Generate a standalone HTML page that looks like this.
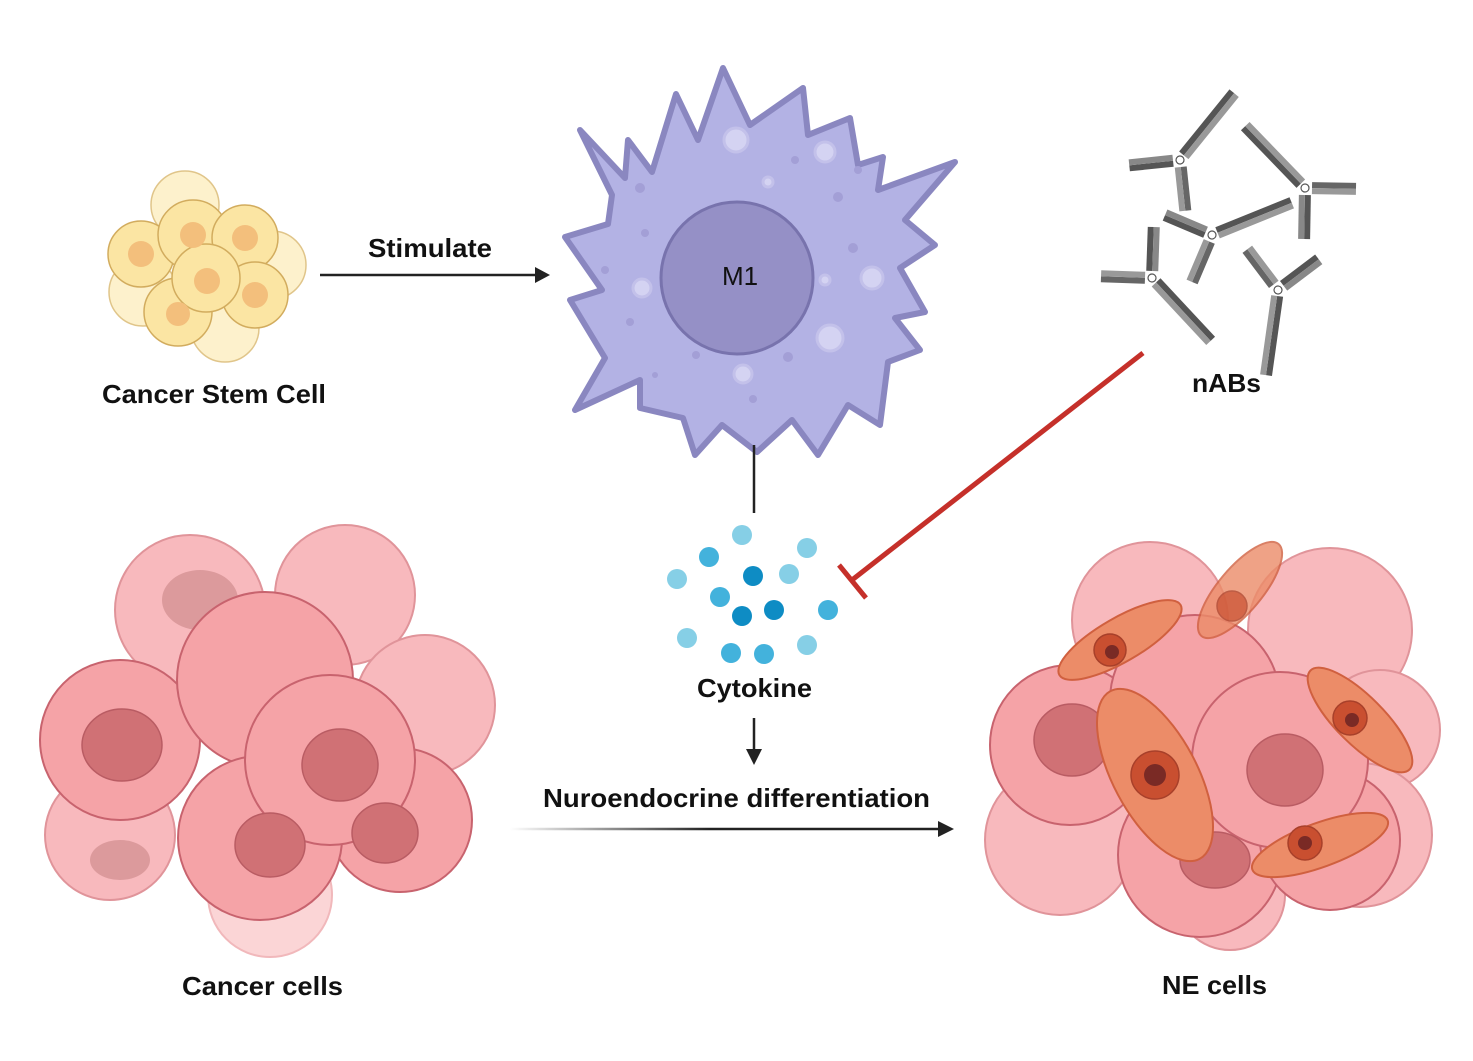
<!DOCTYPE html>
<html><head><meta charset="utf-8"><style>
html,body{margin:0;padding:0;background:#fff;}
svg{display:block;}
text{font-family:"Liberation Sans",sans-serif;font-weight:bold;fill:#111;}
</style></head><body>
<svg width="1473" height="1061" viewBox="0 0 1473 1061" xmlns="http://www.w3.org/2000/svg">
<defs>
<linearGradient id="g1" x1="510" y1="0" x2="953" y2="0" gradientUnits="userSpaceOnUse">
<stop offset="0" stop-color="#fff"/><stop offset="0.45" stop-color="#222"/><stop offset="1" stop-color="#222"/>
</linearGradient>
<g id="ab">
<rect x="6" y="-6" width="80" height="6" fill="#555"/><rect x="6" y="0" width="80" height="6" fill="#999"/>
<g transform="rotate(135)"><rect x="7" y="-6" width="44" height="6" fill="#666"/><rect x="7" y="0" width="44" height="6" fill="#999"/></g>
<g transform="rotate(-135)"><rect x="7" y="-6" width="44" height="6" fill="#555"/><rect x="7" y="0" width="44" height="6" fill="#888"/></g>
<circle r="4" fill="#fff" stroke="#555" stroke-width="1.2"/>
</g>
</defs>

<!-- Cancer stem cell cluster -->
<g stroke="#e0c58a" stroke-width="1.5" fill="#fdf1cc">
<circle cx="185" cy="205" r="34"/><circle cx="272" cy="265" r="34"/><circle cx="225" cy="328" r="34"/><circle cx="143" cy="292" r="34"/>
</g>
<g stroke="#d2ac5e" stroke-width="1.5" fill="#fbe5a3">
<circle cx="141" cy="254" r="33"/><circle cx="193" cy="235" r="35"/><circle cx="245" cy="238" r="33"/>
<circle cx="255" cy="295" r="33"/><circle cx="178" cy="312" r="34"/><circle cx="206" cy="278" r="34"/>
</g>
<g fill="#f3bf7c">
<circle cx="141" cy="254" r="13"/><circle cx="193" cy="235" r="13"/><circle cx="245" cy="238" r="13"/>
<circle cx="255" cy="295" r="13"/><circle cx="178" cy="314" r="12"/><circle cx="207" cy="281" r="13"/>
</g>
<text x="102" y="403" font-size="26" textLength="224" lengthAdjust="spacingAndGlyphs">Cancer Stem Cell</text>

<!-- Stimulate arrow -->
<line x1="320" y1="275" x2="536" y2="275" stroke="#222" stroke-width="2.5"/>
<polygon points="550,275 535,267 535,283" fill="#222"/>
<text x="368" y="257" font-size="26" textLength="124" lengthAdjust="spacingAndGlyphs">Stimulate</text>

<!-- M1 macrophage -->
<path d="M580,130 L625,178 L628,140 L652,172 L676,94 L698,140 L723,68 L750,125 L803,88 L808,135 L850,118 L858,165 L883,157 L878,190 L955,162 L905,220 L935,245 L900,268 L925,312 L895,318 L920,350 L888,362 L880,425 L848,405 L818,455 L792,420 L757,452 L722,425 L695,455 L683,418 L640,408 L640,380 L575,410 L605,358 L570,300 L602,290 L565,237 L608,224 L612,195 Z" fill="#b3b2e4" stroke="#8a87c0" stroke-width="6" stroke-linejoin="round"/>
<g fill="#a39fd6">
<circle cx="640" cy="188" r="5"/><circle cx="645" cy="233" r="4"/><circle cx="605" cy="270" r="4"/><circle cx="630" cy="322" r="4"/>
<circle cx="696" cy="355" r="4"/><circle cx="788" cy="357" r="5"/><circle cx="838" cy="197" r="5"/><circle cx="853" cy="248" r="5"/>
<circle cx="795" cy="160" r="4"/><circle cx="858" cy="170" r="4"/><circle cx="753" cy="399" r="4"/><circle cx="655" cy="375" r="3"/>
</g>
<g fill="#d4d3f2" stroke="#c3c1ea" stroke-width="3">
<circle cx="736" cy="140" r="12"/><circle cx="825" cy="152" r="10"/><circle cx="768" cy="182" r="5"/><circle cx="642" cy="288" r="9"/>
<circle cx="872" cy="278" r="11"/><circle cx="825" cy="280" r="5"/><circle cx="830" cy="338" r="13"/><circle cx="743" cy="374" r="9"/>
</g>
<circle cx="737" cy="278" r="76" fill="#9590c6" stroke="#7873ad" stroke-width="3"/>
<text x="740" y="285" font-size="26" text-anchor="middle" style="font-weight:normal">M1</text>

<line x1="754" y1="445" x2="754" y2="513" stroke="#222" stroke-width="2.5"/>

<!-- cytokines -->
<g>
<circle cx="742" cy="535" r="10" fill="#86cfe6"/><circle cx="709" cy="557" r="10" fill="#43b2dc"/><circle cx="807" cy="548" r="10" fill="#86cfe6"/>
<circle cx="677" cy="579" r="10" fill="#86cfe6"/><circle cx="753" cy="576" r="10" fill="#0e8cc4"/><circle cx="789" cy="574" r="10" fill="#86cfe6"/>
<circle cx="720" cy="597" r="10" fill="#43b2dc"/><circle cx="742" cy="616" r="10" fill="#0e8cc4"/><circle cx="774" cy="610" r="10" fill="#0e8cc4"/>
<circle cx="828" cy="610" r="10" fill="#43b2dc"/><circle cx="687" cy="638" r="10" fill="#86cfe6"/><circle cx="731" cy="653" r="10" fill="#43b2dc"/>
<circle cx="764" cy="654" r="10" fill="#43b2dc"/><circle cx="807" cy="645" r="10" fill="#86cfe6"/>
</g>
<text x="697" y="697" font-size="26" textLength="115" lengthAdjust="spacingAndGlyphs">Cytokine</text>
<line x1="754" y1="718" x2="754" y2="750" stroke="#222" stroke-width="2.5"/>
<polygon points="754,765 746,749 762,749" fill="#222"/>
<text x="543" y="807" font-size="26" textLength="387" lengthAdjust="spacingAndGlyphs">Nuroendocrine differentiation</text>
<line x1="510" y1="829" x2="940" y2="829" stroke="url(#g1)" stroke-width="2.5"/>
<polygon points="954,829 938,821 938,837" fill="#222"/>

<!-- inhibition -->
<line x1="1143" y1="353" x2="852" y2="580" stroke="#c5302a" stroke-width="5"/>
<line x1="839" y1="565" x2="866" y2="598" stroke="#c5302a" stroke-width="5"/>

<!-- antibodies -->
<use href="#ab" transform="translate(1180,160) rotate(-51)"/>
<use href="#ab" transform="translate(1305,188) rotate(226)"/>
<use href="#ab" transform="translate(1212,235) rotate(-22)"/>
<use href="#ab" transform="translate(1152,278) rotate(47)"/>
<use href="#ab" transform="translate(1278,290) rotate(98)"/>
<text x="1192" y="392" font-size="26" textLength="69" lengthAdjust="spacingAndGlyphs">nABs</text>

<!-- Cancer cells left -->
<g stroke="#e0949a" stroke-width="2" fill="#f8b9bd">
<circle cx="270" cy="895" r="62" fill="#fbd5d6" stroke="#f1b8bb"/>
<circle cx="190" cy="610" r="75"/><circle cx="345" cy="595" r="70"/><circle cx="425" cy="705" r="70"/><circle cx="110" cy="835" r="65"/>
</g>
<g fill="#dc9a9c"><ellipse cx="200" cy="600" rx="38" ry="30"/><ellipse cx="120" cy="860" rx="30" ry="20"/></g>
<g stroke="#c8636e" stroke-width="2" fill="#f5a3a7">
<circle cx="120" cy="740" r="80"/><circle cx="265" cy="680" r="88"/><circle cx="400" cy="820" r="72"/><circle cx="260" cy="838" r="82"/><circle cx="330" cy="760" r="85"/>
</g>
<g fill="#d07175" stroke="#b95c63" stroke-width="1.5">
<ellipse cx="122" cy="745" rx="40" ry="36"/><ellipse cx="340" cy="765" rx="38" ry="36"/><ellipse cx="270" cy="845" rx="35" ry="32"/><ellipse cx="385" cy="833" rx="33" ry="30"/>
</g>
<text x="182" y="995" font-size="26" textLength="161" lengthAdjust="spacingAndGlyphs">Cancer cells</text>

<!-- NE cells right -->
<g stroke="#e0949a" stroke-width="2" fill="#f8b9bd">
<circle cx="1150" cy="620" r="78"/><circle cx="1330" cy="630" r="82"/><circle cx="1380" cy="730" r="60"/><circle cx="1060" cy="840" r="75"/><circle cx="1360" cy="835" r="72"/><circle cx="1230" cy="895" r="55"/>
</g>
<g stroke="#c8636e" stroke-width="2" fill="#f5a3a7">
<circle cx="1070" cy="745" r="80"/><circle cx="1195" cy="700" r="85"/><circle cx="1200" cy="855" r="82"/><circle cx="1330" cy="840" r="70"/><circle cx="1280" cy="760" r="88"/>
</g>
<g fill="#d07175" stroke="#b95c63" stroke-width="1.5">
<ellipse cx="1072" cy="740" rx="38" ry="36"/><ellipse cx="1285" cy="770" rx="38" ry="36"/><ellipse cx="1215" cy="860" rx="35" ry="28"/>
</g>
<g fill="#ec8c68" stroke="#d0603f" stroke-width="2">
<ellipse cx="1155" cy="775" rx="42" ry="95" transform="rotate(-28 1155 775)"/>
<ellipse cx="1120" cy="640" rx="22" ry="70" transform="rotate(60 1120 640)"/>
<ellipse cx="1360" cy="720" rx="24" ry="70" transform="rotate(-45 1360 720)"/>
<ellipse cx="1320" cy="845" rx="22" ry="72" transform="rotate(70 1320 845)"/>
<ellipse cx="1240" cy="590" rx="22" ry="60" transform="rotate(40 1240 590)" opacity="0.8"/>
</g>
<g fill="#c94f30" stroke="#a8402a" stroke-width="1.5">
<circle cx="1155" cy="775" r="24"/><circle cx="1110" cy="650" r="16"/><circle cx="1350" cy="718" r="17"/><circle cx="1305" cy="843" r="17"/><circle cx="1232" cy="606" r="15" opacity="0.7"/>
</g>
<g fill="#7a2a25">
<circle cx="1155" cy="775" r="11"/><circle cx="1112" cy="652" r="7"/><circle cx="1352" cy="720" r="7"/><circle cx="1305" cy="843" r="7"/>
</g>
<text x="1162" y="994" font-size="26" textLength="105" lengthAdjust="spacingAndGlyphs">NE cells</text>
</svg>
</body></html>
